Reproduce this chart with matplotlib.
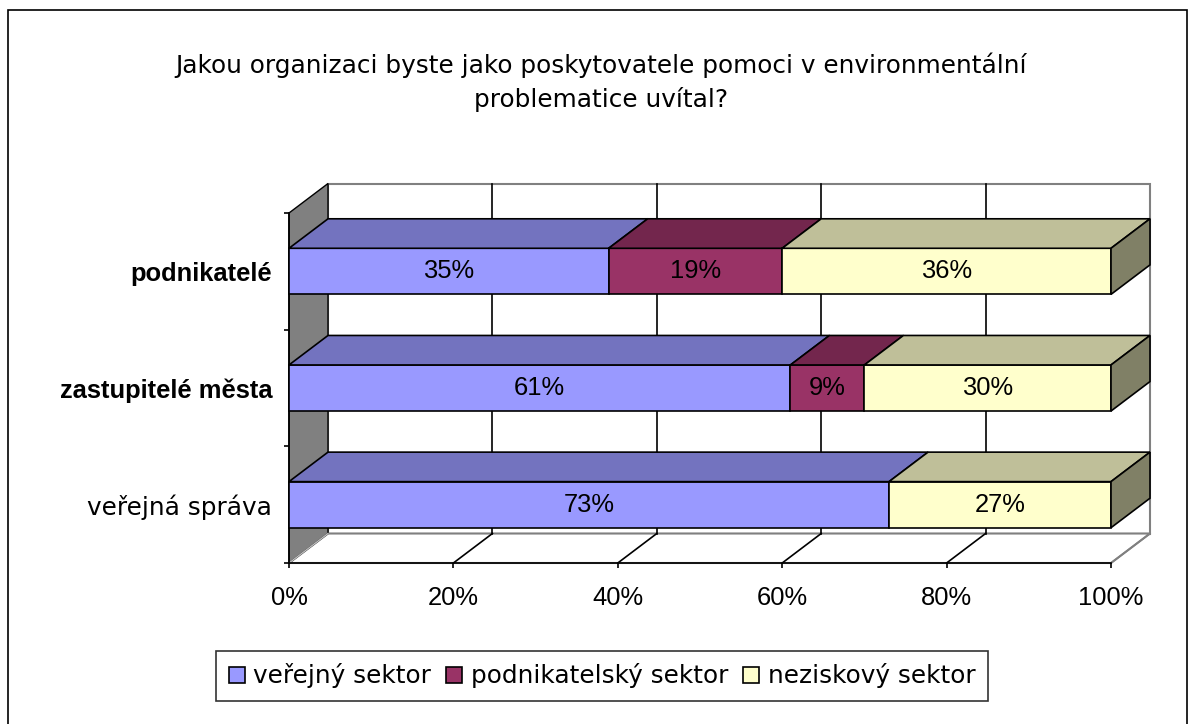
import matplotlib
matplotlib.use("Agg")
import matplotlib.pyplot as plt
from matplotlib.patches import Polygon, Rectangle, Patch

# data
categories = ["veřejná správa", "zastupitelé města", "podnikatelé"]
series_names = ["veřejný sektor", "podnikatelský sektor", "neziskový sektor"]
verejny = [73, 61, 35]
podnikatelsky = [0, 9, 19]
neziskovy = [27, 30, 36]
x_ticks = [0, 20, 40, 60, 80, 100]

front_colors = ["#9999FF", "#993366", "#FFFFCC"]
top_colors = ["#7373BF", "#73264D", "#BFBF99"]
side_colors = ["#4D4D80", "#4D1A33", "#808066"]

plt.rcParams["font.family"] = ["Liberation Sans", "DejaVu Sans"]
FS = 18.4
WIDE = ["DejaVu Sans"]   # wider face to mimic the spaced-out Excel text
FS_W = 17.8

fig = plt.figure(figsize=(11.95, 7.24), dpi=100)
W, H = 1195, 724
ax = fig.add_axes([289 / W, 1 - 563 / H, (1111 - 289) / W, (563 - 213) / H])
ax.set_xlim(0, 100)
ax.set_ylim(-0.5, 2.5)

# 3d depth in data units
dx = 39 / 8.22
dy = 29.5 / 116.7
bar_h = 0.395
y0, y1 = -0.5, 2.5

# walls
ax.add_patch(Polygon([(dx, y0 + dy), (100 + dx, y0 + dy), (100 + dx, y1 + dy), (dx, y1 + dy)],
                     facecolor="white", edgecolor="#808080", lw=1.5, clip_on=False, zorder=1))
ax.add_patch(Polygon([(0, y0), (100, y0), (100 + dx, y0 + dy), (dx, y0 + dy)],
                     facecolor="white", edgecolor="#808080", lw=1.5, clip_on=False, zorder=1))
ax.add_patch(Polygon([(0, y0), (0, y1), (dx, y1 + dy), (dx, y0 + dy)],
                     facecolor="#808080", edgecolor="black", lw=1, clip_on=False, zorder=1.2))
ax.plot([0, dx], [y0, y0 + dy], color="#C0C0C0", lw=1, clip_on=False, zorder=1.3)

for t in x_ticks[1:-1]:
    ax.plot([t + dx, t + dx], [y0 + dy, y1 + dy], color="black", lw=1.2, clip_on=False, zorder=1.5)
for t in x_ticks[1:]:
    c = "#808080" if t == 100 else "black"
    ax.plot([t, t + dx], [y0, y0 + dy], color=c, lw=1.2, clip_on=False, zorder=1.5)

# stacked 3d bars (100 %)
rows = list(zip(verejny, podnikatelsky, neziskovy))
for i, vals in enumerate(rows):
    total = sum(vals)
    left = 0
    yb, yt = i - bar_h / 2, i + bar_h / 2
    drawn = [k for k, v in enumerate(vals) if v > 0]
    for k in drawn:
        w = vals[k] / total * 100
        r = left + w
        ax.add_patch(Polygon([(left, yb), (r, yb), (r, yt), (left, yt)],
                             facecolor=front_colors[k], edgecolor="black", lw=1.2, zorder=3, clip_on=False))
        ax.add_patch(Polygon([(left, yt), (r, yt), (r + dx, yt + dy), (left + dx, yt + dy)],
                             facecolor=top_colors[k], edgecolor="black", lw=1.2, zorder=3, clip_on=False))
        if k == drawn[-1]:
            ax.add_patch(Polygon([(r, yb), (r + dx, yb + dy), (r + dx, yt + dy), (r, yt)],
                                 facecolor=side_colors[k], edgecolor="black", lw=1.2, zorder=3, clip_on=False))
        ax.text(left + w / 2, i, f"{vals[k]}%", ha="center", va="center", fontsize=FS, zorder=4)
        left = r

# axes
for s in ["top", "right"]:
    ax.spines[s].set_visible(False)
for s in ["left", "bottom"]:
    ax.spines[s].set_color("black")
    ax.spines[s].set_linewidth(1.2)
    ax.spines[s].set_zorder(2.8)

ax.set_xticks(x_ticks)
ax.set_xticklabels([f"{t}%" for t in x_ticks], fontsize=FS)
ax.tick_params(axis="x", length=3.6, width=1.2, pad=13, colors="black")

ax.set_yticks([0, 1, 2])
ax.set_yticklabels(categories, fontsize=FS)
ax.set_yticks([-0.5, 0.5, 1.5, 2.5], minor=True)
ax.tick_params(axis="y", which="major", length=0, pad=12)
ax.tick_params(axis="y", which="minor", length=3.6, width=1.2)
ylbls = ax.get_yticklabels()
ylbls[0].set_family(WIDE)
ylbls[0].set_fontsize(FS_W)
for lbl in ylbls[1:]:
    lbl.set_fontweight("bold")

# title
fig.text(601 / W, 1 - 82 / H,
         "Jakou organizaci byste jako poskytovatele pomoci v environmentální\nproblematice uvítal?",
         ha="center", va="center", fontsize=FS_W, family=WIDE, linespacing=1.45)

# legend
handles = [Patch(facecolor=c, edgecolor="black", lw=1.2) for c in front_colors]
leg = fig.legend(handles, series_names, loc="center", bbox_to_anchor=(602 / W, 1 - 676 / H),
                 ncol=3, prop={"family": WIDE, "size": FS_W}, frameon=True, fancybox=False,
                 handlelength=0.65, handleheight=0.65, handletextpad=0.35, columnspacing=0.6,
                 borderpad=0.5, borderaxespad=0)
leg.get_frame().set_edgecolor("black")
leg.get_frame().set_linewidth(1.2)

# outer chart border
fig.add_artist(Rectangle((8 / W, -0.02), (1187 - 8) / W, (724 - 10) / H + 0.02,
                         transform=fig.transFigure, fill=False, edgecolor="black", lw=1.2))

fig.savefig("out.png", dpi=100)
